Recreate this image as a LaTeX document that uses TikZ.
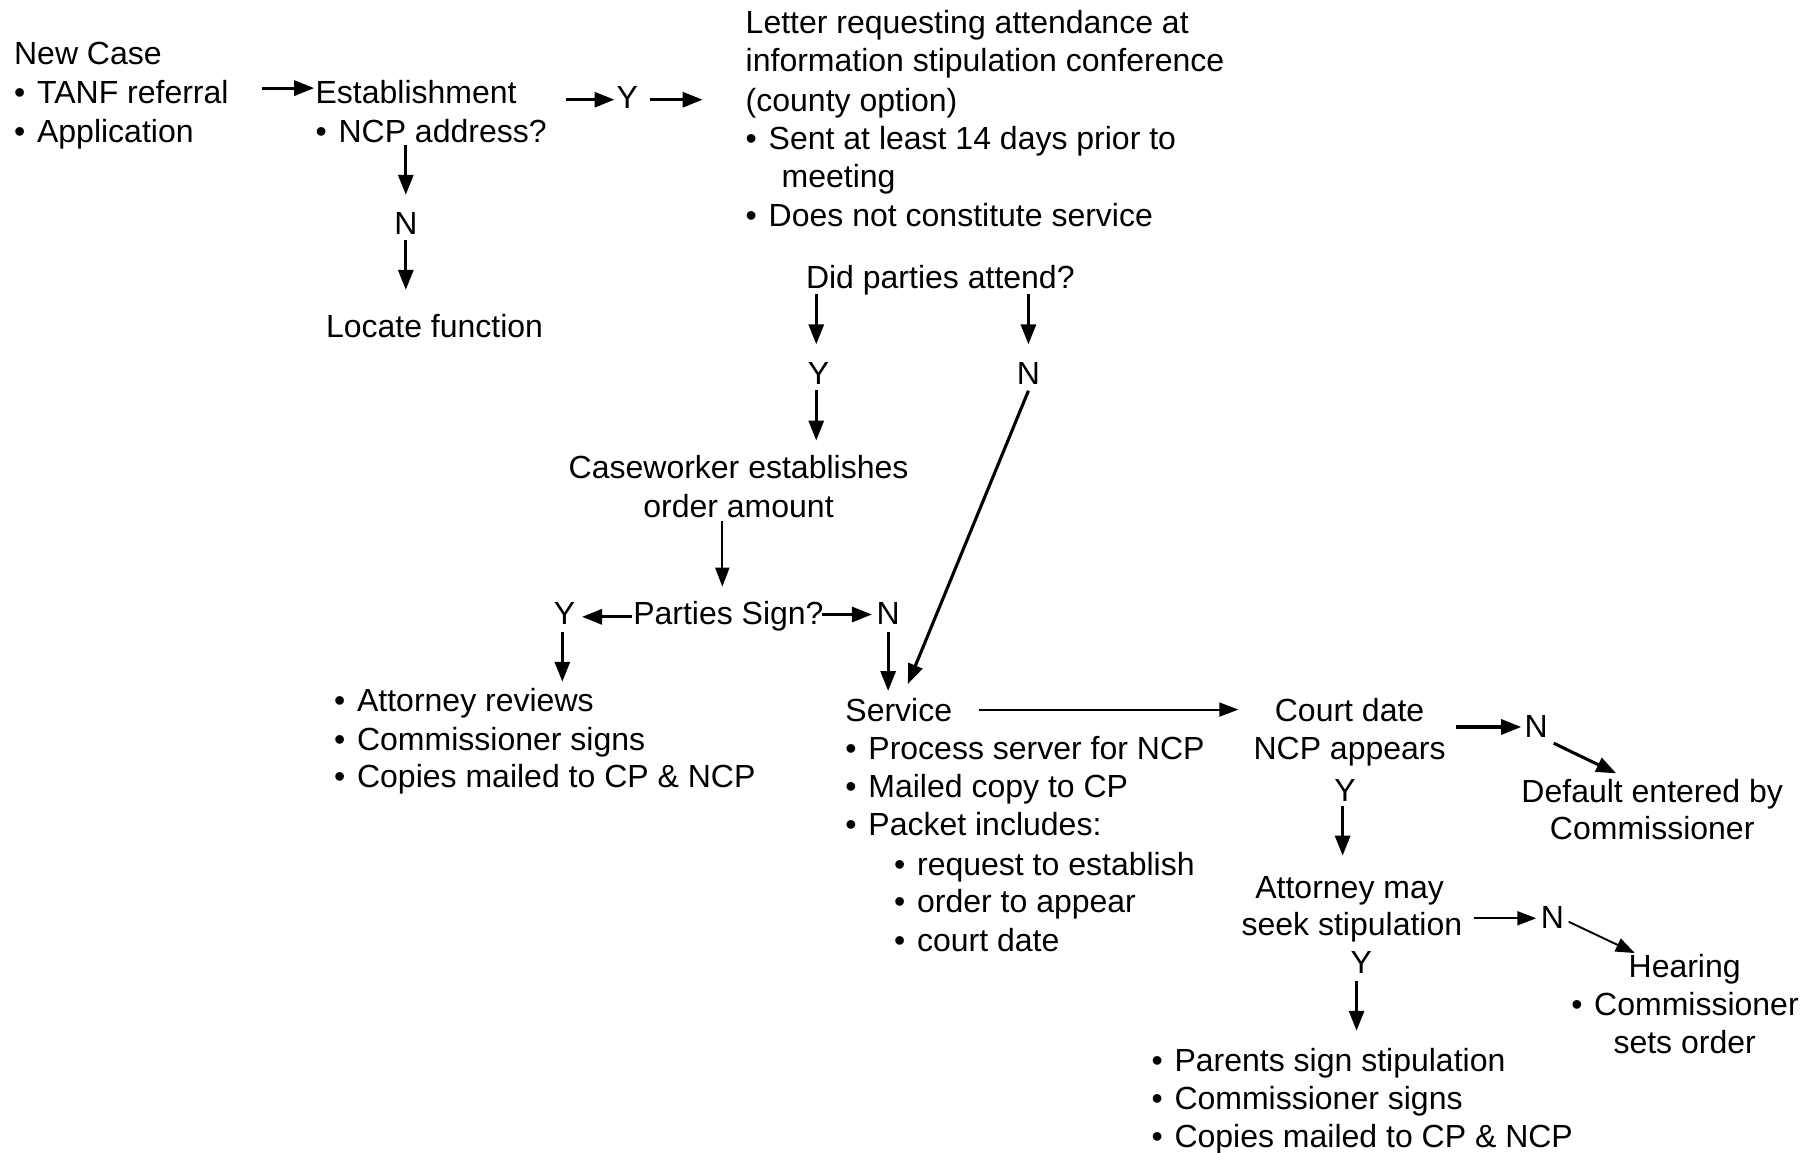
\documentclass[tikz,border=0pt]{standalone}
\usepackage{fontspec}
\setmainfont{Liberation Sans}
\usetikzlibrary{arrows.meta}
\newcommand\bu{•\hspace{11.8pt}}
\begin{document}
\begin{tikzpicture}[x=1.1594pt,y=-1.1594pt,
  txt/.style={inner sep=0pt, text height=0.72em, text depth=0pt, anchor=west, yshift=-8pt, font=\fontsize{32}{38}\selectfont},
  ctxt/.style={txt, anchor=center},
  arr/.style={line width=3.1pt, -{Triangle[length=20pt,width=15pt]}},
  tarr/.style={line width=1.9pt, -{Triangle[length=19pt,width=14pt]}}]
\useasboundingbox (0,0) rectangle (1568,994);
% left top
\node[txt] (nc) at (12,46) {New Case};
\node[txt] (tanf) at (12,79) {\bu TANF referral};
\node[txt] (app) at (12,113) {\bu Application};
\node[txt] (est) at (272,79) {Establishment};
\node[txt] (ncpa) at (272,113) {\bu NCP address?};
\node[ctxt] (N1) at (350,192) {N};
\node[txt] (loc) at (281,281) {Locate function};
\node[ctxt] (Y1) at (541,84) {Y};
% letter
\node[txt] (L1) at (643,19) {Letter requesting attendance at};
\node[txt] (L2) at (643,52) {information stipulation conference};
\node[txt] (L3) at (643,86) {(county option)};
\node[txt] (L4) at (643,119) {\bu Sent at least 14 days prior to};
\node[txt] (L5) at (674,152) {meeting};
\node[txt] (L6) at (643,185) {\bu Does not constitute service};
\node[txt] (did) at (695,239) {Did parties attend?};
\node[ctxt] (Y2) at (706,322) {Y};
\node[ctxt] (N2) at (887,322) {N};
\node[ctxt] (cw1) at (637,403) {Caseworker establishes};
\node[ctxt] (cw2) at (637,436) {order amount};
\node[txt] (ps) at (546,529) {Parties Sign?};
\node[ctxt] (Y3) at (487,529) {Y};
\node[ctxt] (N3) at (766,529) {N};
\node[txt] (ar1) at (288,604) {\bu Attorney reviews};
\node[txt] (ar2) at (288,637) {\bu Commissioner signs};
\node[txt] (ar3) at (288,669) {\bu Copies mailed to CP \& NCP};
% service
\node[txt] (svc) at (729,612) {Service};
\node[txt] (s1) at (729,645) {\bu Process server for NCP};
\node[txt] (s2) at (729,678) {\bu Mailed copy to CP};
\node[txt] (s3) at (729,711) {\bu Packet includes:};
\node[txt] (p1) at (771,745) {\bu request to establish};
\node[txt] (p2) at (771,777) {\bu order to appear};
\node[txt] (p3) at (771,811) {\bu court date};
% court
\node[ctxt] (cd1) at (1164,612) {Court date};
\node[ctxt] (cd2) at (1164,645) {NCP appears};
\node[ctxt] (N4) at (1325,626) {N};
\node[ctxt] (def1) at (1425,682) {Default entered by};
\node[ctxt] (def2) at (1425,714) {Commissioner};
\node[ctxt] (Y4) at (1160,681) {Y};
\node[ctxt] (am1) at (1164,765) {Attorney may};
\node[ctxt] (am2) at (1166,797) {seek stipulation};
\node[ctxt] (N5) at (1339,791) {N};
\node[ctxt] (h1) at (1453,833) {Hearing};
\node[txt] (h2) at (1355,866) {\bu Commissioner};
\node[ctxt] (h3) at (1453,899) {sets order};
\node[ctxt] (Y5) at (1174,830) {Y};
\node[txt] (pp1) at (993,914) {\bu Parents sign stipulation};
\node[txt] (pp2) at (993,947) {\bu Commissioner signs};
\node[txt] (pp3) at (993,980) {\bu Copies mailed to CP \& NCP};
% connector coordinates
\coordinate (a1s) at (226,76); \coordinate (a1e) at (271,76);
\coordinate (a2s) at (350,125); \coordinate (a2e) at (350,168);
\coordinate (a3s) at (350,207); \coordinate (a3e) at (350,250);
\coordinate (a4s) at (488,86); \coordinate (a4e) at (530,86);
\coordinate (a5s) at (561,86); \coordinate (a5e) at (606,86);
\coordinate (a6s) at (704,254); \coordinate (a6e) at (704,297);
\coordinate (a7s) at (887,254); \coordinate (a7e) at (887,297);
\coordinate (a8s) at (704,336); \coordinate (a8e) at (704,380);
\coordinate (a9s) at (623,449); \coordinate (a9e) at (623,506);
\coordinate (a10s) at (545,532); \coordinate (a10e) at (502,532);
\coordinate (a11s) at (709,530); \coordinate (a11e) at (752,530);
\coordinate (a12s) at (485,545); \coordinate (a12e) at (485,588);
\coordinate (a13s) at (766,545); \coordinate (a13e) at (766,596);
\coordinate (a14s) at (887,337); \coordinate (a14e) at (783,590);
\coordinate (a15s) at (844,612); \coordinate (a15e) at (1068,612);
\coordinate (a16s) at (1256,627); \coordinate (a16e) at (1312,627);
\coordinate (a17s) at (1340,641); \coordinate (a17e) at (1394,667);
\coordinate (a18s) at (1158,695); \coordinate (a18e) at (1158,738);
\coordinate (a19s) at (1271,792); \coordinate (a19e) at (1325,792);
\coordinate (a20s) at (1353,795); \coordinate (a20e) at (1410,822);
\coordinate (a21s) at (1170,846); \coordinate (a21e) at (1170,889);
\draw[arr] (a1s) -- (a1e);
\draw[arr] (a2s) -- (a2e);
\draw[arr] (a3s) -- (a3e);
\draw[arr] (a4s) -- (a4e);
\draw[arr] (a5s) -- (a5e);
\draw[arr] (a6s) -- (a6e);
\draw[arr] (a7s) -- (a7e);
\draw[arr] (a8s) -- (a8e);
\draw[tarr] (a9s) -- (a9e);
\draw[arr] (a10s) -- (a10e);
\draw[arr] (a11s) -- (a11e);
\draw[arr] (a12s) -- (a12e);
\draw[arr] (a13s) -- (a13e);
\draw[arr] (a14s) -- (a14e);
\draw[tarr] (a15s) -- (a15e);
\draw[arr] (a16s) -- (a16e);
\draw[arr] (a17s) -- (a17e);
\draw[arr] (a18s) -- (a18e);
\draw[tarr] (a19s) -- (a19e);
\draw[tarr] (a20s) -- (a20e);
\draw[arr] (a21s) -- (a21e);
\end{tikzpicture}
\end{document}
